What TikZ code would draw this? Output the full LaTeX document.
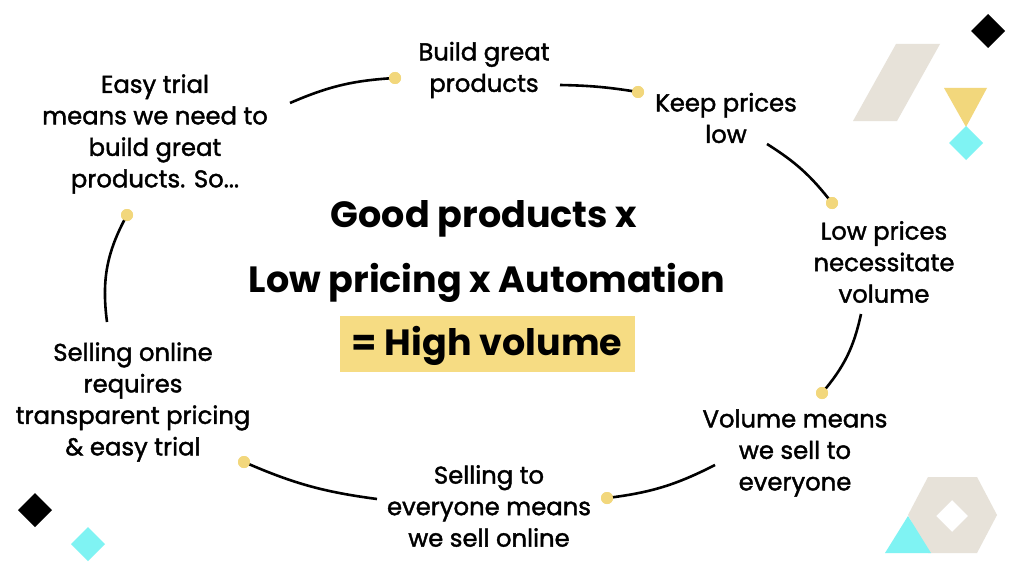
\documentclass[tikz,border=0pt]{standalone}
\usepackage{fontspec}
\setmainfont{Poppins}
\newfontfamily\medfont[FakeBold=1.6]{Poppins}
\definecolor{dotyellow}{HTML}{F2D77C}
\definecolor{hlyellow}{HTML}{F6DC83}
\definecolor{beige}{HTML}{E7E2D9}
\definecolor{cyanish}{HTML}{7FF3F3}
\begin{document}
\begin{tikzpicture}[x=1pt,y=-1pt,
  lbl/.style={align=center,font=\medfont\fontsize{24.3}{31.5}\selectfont,text=black,inner sep=0pt},
  ttl/.style={align=center,font=\fontsize{36.5}{40}\selectfont\bfseries,text=black,inner sep=0pt},
  dotn/.style={circle,fill=dotyellow,minimum size=12pt,inner sep=0pt},
  conn/.style={line width=2.6pt,black},
]
\useasboundingbox[fill=white] (0,0) rectangle (1024,575);
% decorations
\fill[beige] (853,121) -- (896,44) -- (940,44) -- (897,121) -- cycle;
\fill[dotyellow] (944,88) -- (987,88) -- (966,127) -- cycle;
\fill[cyanish] (966,126) -- (983,143) -- (966,160) -- (949,143) -- cycle;
\fill[black] (988,14) -- (1005,31) -- (988,48) -- (971,31) -- cycle;
\fill[beige,even odd rule] (928,477) -- (977,477) -- (997,515) -- (977,553) -- (928,553) -- (908,515) -- cycle
  (952,500) -- (968,516) -- (952,532) -- (936,516) -- cycle;
\fill[cyanish] (885,553) -- (931,553) -- (908,516) -- cycle;
\fill[black] (35,493) -- (52,510) -- (35,527) -- (18,510) -- cycle;
\fill[cyanish] (88,527) -- (105,544) -- (88,561) -- (71,544) -- cycle;
% center title
\node[fill=hlyellow,minimum width=295pt,minimum height=56pt,inner sep=0pt] (hl) at (487.5,344) {};
\node[ttl] (t3) at (487,346) {= High volume};
\node[ttl] (t1) at (484,219) {Good products x};
\node[ttl] (t2) at (487,283) {Low pricing x Automation};
% labels
\node[lbl] (n1) at (484,70) {Build great\\products};
\node[lbl] (n2) at (726,118) {Keep prices\\low};
\node[lbl] (n3) at (884,262) {Low prices\\necessitate\\volume};
\node[lbl] (n4) at (795,453) {Volume means\\we sell to\\everyone};
\node[lbl] (n5) at (489,506) {Selling to\\everyone means\\we sell online};
\node[lbl] (n6) at (133,402) {Selling online\\requires\\transparent pricing\\\& easy trial};
\node[lbl] (n7) at (155,134) {Easy trial\\means we need to\\build great\\products. So...};
% connectors
\coordinate (s1) at (290,103); \node[dotn] (d1) at (395,78) {};
\coordinate (s2) at (560,85);  \node[dotn] (d2) at (638,92) {};
\coordinate (s3) at (767,144); \node[dotn] (d3) at (832,203) {};
\coordinate (s4) at (861,314); \node[dotn] (d4) at (822,393) {};
\coordinate (s5) at (715,465); \node[dotn] (d5) at (607,498) {};
\coordinate (s6) at (377,499); \node[dotn] (d6) at (244,462) {};
\coordinate (s7) at (107,322); \node[dotn] (d7) at (127,215) {};
\draw[conn] (s1) to[bend left=10] (d1.center);
\draw[conn] (s2) to[bend left=4] (d2.center);
\draw[conn] (s3) to[bend left=10] (d3.center);
\draw[conn] (s4) to[bend left=14] (d4.center);
\draw[conn] (s5) to[bend left=10] (d5.center);
\draw[conn] (s6) to[bend left=8] (d6.center);
\draw[conn] (s7) to[bend left=18] (d7.center);
\foreach \d in {d1,d2,d3,d4,d5,d6,d7} \node[dotn] at (\d) {};
\end{tikzpicture}
\end{document}
